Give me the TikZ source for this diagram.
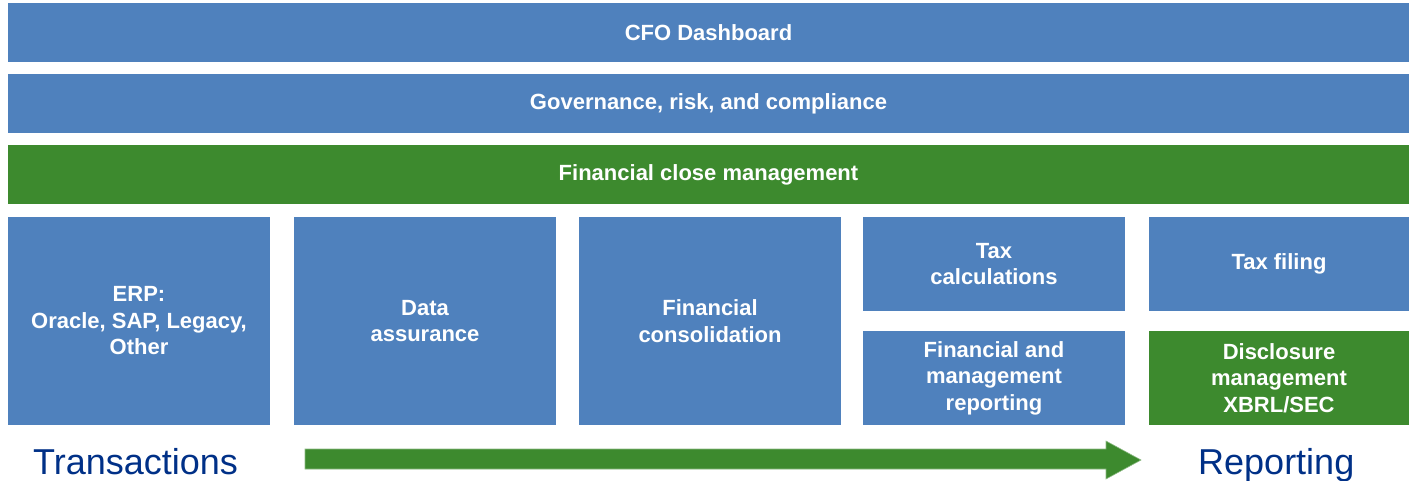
\documentclass[tikz,border=0pt]{standalone}
\usepackage{fontspec}
\setmainfont{Liberation Sans}
\definecolor{boxblue}{RGB}{79,129,189}
\definecolor{boxgreen}{RGB}{61,138,46}
\definecolor{textblue}{RGB}{0,48,135}
\begin{document}
\begin{tikzpicture}[x=1pt,y=-1pt,
  box/.style={fill=boxblue,draw=none,inner sep=0pt,align=center,text=white,
    font=\fontsize{22}{26.5}\selectfont\bfseries},
  gbox/.style={box,fill=boxgreen},
  bar/.style={minimum width=1401pt,minimum height=59pt},
  col/.style={minimum width=262pt,minimum height=208pt},
  half/.style={minimum width=262pt,minimum height=94pt},
  label/.style={text=textblue,font=\fontsize{36}{40}\selectfont,inner sep=0pt,anchor=base west}]
\useasboundingbox (0,0) rectangle (1409,480);
\node[box,bar] (cfo) at (708.5,32.5) {CFO Dashboard};
\node[box,bar] (grc) at (708.5,103.5) {Governance, risk, and compliance};
\node[gbox,bar] (fcm) at (708.5,174.5) {Financial close management};
\node[box,col] (erp) at (139,321) {ERP:\\Oracle, SAP, Legacy,\\Other};
\node[box,col] (da) at (425,321) {Data\\assurance};
\node[box,col] (fc) at (710,321) {Financial\\consolidation};
\node[box,half] (tc) at (994,264) {Tax\\calculations};
\node[box,half] (fmr) at (994,378) {Financial and\\management\\reporting};
\node[box,half,minimum width=260pt] (tf) at (1279,264) {Tax filing};
\node[gbox,half,minimum width=260pt] (dm) at (1279,378) {Disclosure\\management\\XBRL/SEC};
\node[label] (tr) at (33,474) {Transactions};
\node[label] (rep) at (1198,474) {Reporting};
\fill[boxgreen,draw=boxgreen!60!white,line width=0.6pt]
  (305,449) -- (1106,449) -- (1106,441) -- (1141,460) -- (1106,479) -- (1106,469) -- (305,469) -- cycle;
\end{tikzpicture}
\end{document}
